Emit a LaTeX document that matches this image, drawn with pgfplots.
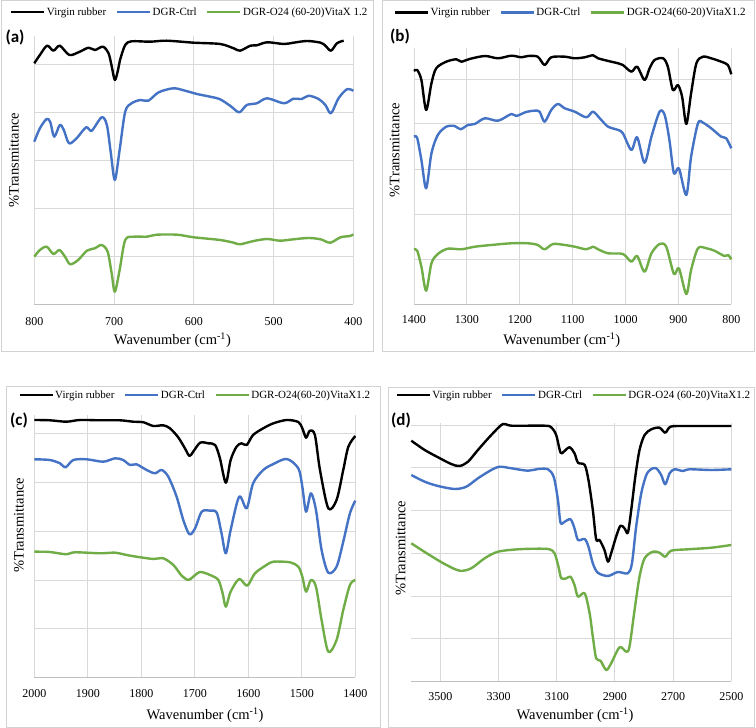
\documentclass[border=0pt]{standalone}
\usepackage{fontspec}
\setmainfont{Liberation Serif}
\newfontfamily\labfont{Carlito}
\usepackage{pgfplots}
\pgfplotsset{compat=1.18}
\definecolor{cblk}{RGB}{0,0,0}
\definecolor{cblu}{RGB}{68,114,196}
\definecolor{cgrn}{RGB}{112,173,71}
\definecolor{gridc}{RGB}{217,217,217}
\definecolor{boxc}{RGB}{210,210,210}
\definecolor{axc}{RGB}{191,191,191}
\pgfplotsset{
 ftir/.style={
  scale only axis, anchor=south west, clip=false,
  axis lines*=left, axis line style={-},
  x axis line style={draw=axc, line width=0.9pt},
  y axis line style={draw=none},
  x dir=reverse,
  xmajorgrids, ymajorgrids,
  grid style={draw=gridc, line width=0.9pt},
  major tick length=0pt,
  yticklabels={},
  /pgf/number format/assume math mode=true,
  /pgf/number format/1000 sep={},
  tick label style={font=\fontsize{12}{14}\selectfont},
  label style={font=\fontsize{14.5}{16}\selectfont},
  xlabel={Wavenumber (cm\textsuperscript{-1})},
  ylabel={\%Transmittance},
  legend columns=3,
  legend image code/.code={\draw[##1] (0pt,0pt) -- (33pt,0pt);},
  legend style={draw=none, fill=none, anchor=center,
    font=\fontsize{11}{13}\selectfont,
    nodes={inner sep=1.5pt},
    /tikz/every even column/.append style={column sep=8pt}},
  every axis plot/.append style={line width=2.4pt, smooth, line join=round},
 }
}
\begin{document}
\begin{tikzpicture}[x=1pt,y=1pt]
\useasboundingbox (0,0) rectangle (756,728);
\fill[white] (0,0) rectangle (756,728);
\draw[boxc, line width=0.9pt] (1,377) rectangle (373,727.5);
\draw[boxc, line width=0.9pt] (382,377) rectangle (754.5,727.5);
\draw[boxc, line width=0.9pt] (6,1) rectangle (380,342);
\draw[boxc, line width=0.9pt] (388.5,1) rectangle (754.5,341);

% ---------------- (a)
\begin{axis}[ftir, at={(34.3pt,424pt)}, width=319pt, height=268pt,
  xmin=400, xmax=800, ymin=-304, ymax=-36,
  xtick={400,500,600,700,800}, ytick={-256,-208,-160,-112,-64},
  xticklabel style={anchor=center, yshift=-17.5pt},
  x label style={at={(axis description cs:0.433,0)}, anchor=center, yshift=-36pt},
  y label style={at={(axis description cs:-0.0636,0.537)}, anchor=center},
  legend style={at={(axis description cs:0.4865,1.0896)}}]
\addplot[cblk] coordinates {(800,-63.3)(793,-55)(784,-45.7)(776,-50.7)(768,-45.7)(756,-55)(743,-51.7)(732,-47.7)(724,-50)(714,-46.7)(707,-53)(703,-66)(699,-80)(695,-70)(692.5,-60)(686,-45)(678,-41.3)(655,-41.7)(634,-40.7)(600,-42.7)(567,-44)(550,-48.3)(542,-50.7)(529,-45.7)(521,-45.3)(508,-42.3)(487,-44)(475,-42.7)(458,-41)(441,-42.7)(435,-45.7)(428,-50.7)(420.5,-43.3)(412,-40.7)};
\addlegendentry{Virgin rubber}
\addplot[cblu] coordinates {(800,-141.7)(793,-128.3)(784.5,-119)(780,-122)(775,-136.7)(768,-125)(763,-130)(756.5,-143.3)(747,-138.3)(735,-127.3)(728,-130.7)(715.5,-117.3)(709,-125)(704,-153.3)(699,-180)(693,-150)(686,-111.7)(678,-103.3)(667,-100)(657,-100.7)(644,-92.3)(625.5,-88.3)(611,-90.7)(596,-94)(579.5,-96.7)(567,-99.3)(554,-106)(543,-112.3)(533.5,-105)(521,-103.3)(508,-98.3)(487,-103.3)(475,-98.7)(464.5,-99)(456,-95.7)(443.5,-99)(435,-105)(428,-113.3)(418.5,-98.3)(408,-89.3)(400,-90.7)};
\addlegendentry{DGR-Ctrl}
\addplot[cgrn] coordinates {(800,-256.7)(793,-250)(784.5,-246.7)(776,-254)(768.5,-250)(761.5,-256.7)(755,-264.3)(745,-260)(734,-250.7)(724,-248.3)(715.5,-245)(708,-251.7)(703,-273.3)(699,-291.7)(693,-270)(686,-240)(675,-236.7)(659,-236.7)(646,-234.7)(621,-234.7)(600,-237.3)(567,-240)(550,-242.7)(542,-244.3)(525,-241)(508,-239)(492,-240.7)(475,-239.3)(456,-238)(441,-239.3)(429,-242.7)(416,-237.3)(404,-236)(400,-234.3)};
\addlegendentry{DGR-O24 (60-20)VitaX 1.2}
\end{axis}
\node[font=\labfont\bfseries\fontsize{17}{19}\selectfont] at (15,691) {(a)};

% ---------------- (b)
\begin{axis}[ftir, at={(414pt,424pt)}, width=317.3pt, height=256pt,
  xmin=800, xmax=1400, ymin=-304, ymax=-48,
  xtick={800,900,...,1400}, ytick={-259,-214.3,-169.3,-123.7,-79},
  xticklabel style={anchor=center, yshift=-16pt},
  x label style={at={(axis description cs:0.466,0)}, anchor=center, yshift=-36pt},
  y label style={at={(axis description cs:-0.0608,0.6016)}, anchor=center},
  legend style={at={(axis description cs:0.4932,1.1379)}}]
\addplot[cblk] coordinates {(1400,-71)(1394,-70)(1386,-80)(1377,-110)(1367,-83.3)(1358,-68.3)(1339,-61.7)(1320,-59.3)(1310.5,-61.7)(1295,-59)(1266,-56)(1241,-58.3)(1216,-55.7)(1197,-57.3)(1184.5,-56)(1166,-56.7)(1153,-65)(1140.5,-57.3)(1115,-56.7)(1096,-58.3)(1077,-57.3)(1061.5,-55.3)(1052,-58.3)(1027,-61.7)(1014,-63.3)(1005,-65)(989,-71.7)(978,-66.7)(964,-80)(954.5,-68.3)(945,-60)(929,-58.3)(920,-66.7)(910.5,-90)(901,-85)(893,-96.7)(885,-124)(876,-93.3)(866,-63.3)(853.5,-56.7)(838,-58.3)(819,-61.7)(806.5,-65)(800,-74.3)};
\addlegendentry{Virgin rubber}
\addplot[cblu] coordinates {(1400,-136.7)(1394,-138)(1386,-160)(1377,-188.3)(1367,-153.3)(1355,-135)(1339,-126.7)(1323,-126)(1312,-129.3)(1298,-125)(1285,-124)(1266,-118.3)(1241,-120.7)(1216,-114)(1206.5,-116)(1188,-112)(1172,-110.7)(1162.5,-111.7)(1153,-121.7)(1140.5,-110)(1128,-104)(1115,-108.3)(1096,-111.7)(1074,-117.3)(1061.5,-111.7)(1047,-119.3)(1033,-126.7)(1014,-130)(1005,-133.3)(989,-150)(978,-137.3)(964,-162.7)(951,-136.7)(935.6,-111.7)(926,-115)(917,-140)(908.5,-173.3)(899,-168.3)(885,-195)(876,-156.7)(863,-123.3)(853.5,-122.7)(838,-128.3)(819,-136.7)(809.6,-138.3)(800,-148.3)};
\addlegendentry{DGR-Ctrl}
\addplot[cgrn] coordinates {(1400,-249.3)(1394,-250.7)(1386,-266.7)(1377,-290.7)(1367,-263.3)(1355,-254)(1336,-248.7)(1310.5,-249.3)(1285,-246.7)(1254,-245)(1216,-243.3)(1184.5,-243.3)(1166,-245)(1153,-249.3)(1137,-244)(1115,-245)(1096,-246.7)(1074,-249.3)(1061.5,-246.7)(1052,-249.3)(1033,-253.3)(1005,-254)(989,-261.7)(978,-256)(964,-271.7)(951,-253.3)(935.6,-244)(923,-246.7)(908.5,-274)(899,-268.3)(885,-294)(876,-270)(863,-248.3)(847,-248.3)(832,-250.7)(813,-256)(806,-255)(800,-259.3)};
\addlegendentry{DGR-O24(60-20)VitaX1.2}
\end{axis}
\node[font=\labfont\bfseries\fontsize{17}{19}\selectfont] at (400,692) {(b)};

% ---------------- (c)
\begin{axis}[ftir, at={(34.3pt,51pt)}, width=321pt, height=262pt,
  xmin=1400, xmax=2000, ymin=-317, ymax=-55,
  xtick={1400,1500,...,2000}, ytick={-268.7,-220,-171.3,-122.3,-73.3},
  xticklabel style={anchor=center, yshift=-16.3pt},
  x label style={at={(axis description cs:0.532,0)}, anchor=center, yshift=-38pt},
  y label style={at={(axis description cs:-0.0477,0.58)}, anchor=center},
  legend style={at={(axis description cs:0.5006,1.0763)}}]
\addplot[cblk] coordinates {(2000,-60)(1971,-60.3)(1940,-61.7)(1915,-60)(1877,-60.3)(1840,-60.3)(1815,-61.7)(1796,-62.3)(1777.5,-66)(1759,-65.3)(1746.5,-68.3)(1731,-77.3)(1718.5,-88.3)(1710,-96)(1703,-91.7)(1690,-82.7)(1675,-83.3)(1662,-85)(1653,-98.3)(1642,-122.7)(1633,-100)(1622,-86.7)(1612.5,-83.3)(1603,-85)(1591,-75)(1572,-68.3)(1553,-63.3)(1528,-60)(1506.5,-62)(1499,-68.3)(1492,-77.7)(1485,-70.7)(1475.5,-75)(1466,-110)(1450.5,-148.3)(1435,-140)(1422.5,-110)(1413,-86.7)(1400,-76)};
\addlegendentry{Virgin rubber}
\addplot[cblu] coordinates {(2000,-99.3)(1971,-100)(1952,-103.3)(1941.5,-107.3)(1927,-100)(1902,-99.3)(1871,-101.7)(1849,-98.3)(1834,-100)(1821,-105)(1809,-104.3)(1790,-110)(1774.5,-113.3)(1762,-110)(1749.5,-116.7)(1734,-136.7)(1721.5,-160)(1710,-174.3)(1699.5,-168.3)(1687,-151.7)(1671.5,-150.7)(1659,-152.7)(1650,-173.3)(1642,-193.3)(1633,-170)(1617,-136.7)(1603,-148.3)(1591,-123.3)(1572,-110)(1553,-104)(1528,-99)(1506.5,-108.3)(1499,-126.7)(1492,-151.7)(1483,-133.3)(1473.5,-150)(1463,-190)(1450.5,-212.7)(1435,-206.7)(1422.5,-181.7)(1410,-153.3)(1400,-140.7)};
\addlegendentry{DGR-Ctrl}
\addplot[cgrn] coordinates {(2000,-191.7)(1971,-192)(1940,-194.3)(1924,-192.3)(1877,-193.3)(1849,-192.7)(1827.5,-195)(1809,-196.7)(1777.5,-199)(1759,-198.3)(1740,-205)(1724.5,-215.7)(1712,-220)(1703,-216.7)(1690,-212)(1671.5,-215)(1656,-220)(1648,-233.3)(1642,-246.7)(1633,-231.7)(1617,-219)(1602,-225.7)(1587.5,-213.3)(1566,-205)(1553,-201.7)(1522,-202.3)(1506.5,-206.7)(1499,-216.7)(1492,-231.7)(1483,-220)(1473.5,-226.7)(1463,-260)(1450.5,-291.7)(1435,-280)(1422.5,-250)(1410,-225)(1400,-220)};
\addlegendentry{DGR-O24(60-20)VitaX1.2}
\end{axis}
\node[font=\labfont\bfseries\fontsize{17}{19}\selectfont] at (19,308) {(c)};

% ---------------- (d)
\begin{axis}[ftir, at={(411.3pt,46.7pt)}, width=320pt, height=258.3pt,
  xmin=2500, xmax=3600, ymin=-321.3, ymax=-63,
  xtick={2500,2700,...,3500}, ytick={-278.7,-236,-193.3,-150.7,-107.7,-65.3},
  xticklabel style={anchor=center, yshift=-15.4pt},
  x label style={at={(axis description cs:0.5116,0)}, anchor=center, yshift=-33.7pt},
  y label style={at={(axis description cs:-0.0331,0.516)}, anchor=center},
  legend style={at={(axis description cs:0.5069,1.1084)}}]
\addplot[cblk] coordinates {(3600,-80.7)(3554,-90)(3508,-97.3)(3463,-104)(3434,-106)(3405,-101.7)(3371,-90)(3325,-75)(3285,-64)(3256,-65.7)(3142,-65.7)(3119,-67.3)(3102,-75)(3087,-92.7)(3076,-91.7)(3056,-87.3)(3039,-93.3)(3027,-102.7)(3004,-105)(2991,-120)(2976,-150)(2964.5,-179.3)(2953,-180)(2936,-190)(2924,-201.7)(2913,-193.3)(2896,-176.7)(2881,-165.7)(2867,-168.3)(2855.5,-172.7)(2844,-150)(2830,-116.7)(2815.5,-90)(2798,-75)(2775,-69.3)(2747,-67.7)(2727,-72.7)(2709,-66.7)(2661,-66)(2569,-66)(2500,-66)};
\addlegendentry{Virgin rubber}
\addplot[cblu] coordinates {(3600,-115)(3554,-121.7)(3508,-126)(3451,-129)(3411,-126.7)(3371,-118.3)(3325,-110)(3296.5,-106.7)(3256,-108.3)(3199,-110.7)(3165,-109)(3130,-109.3)(3110,-117.3)(3096,-140)(3087,-162.7)(3073,-161.7)(3052.5,-159.3)(3039,-168.3)(3027,-180)(3004,-179)(2991,-186.7)(2976,-203.3)(2959,-212.7)(2924,-216)(2890,-212)(2855.5,-213.3)(2841.5,-203.3)(2827,-166.7)(2809.5,-133.3)(2792,-115)(2775,-109)(2758,-108.3)(2741,-115)(2727,-124.3)(2712,-113.3)(2695,-109.3)(2666.5,-111)(2643.5,-109.3)(2569,-110)(2500,-109.3)};
\addlegendentry{DGR-Ctrl}
\addplot[cgrn] coordinates {(3600,-183.3)(3543,-194)(3485.5,-204)(3434,-210.7)(3394,-208.3)(3348,-198.3)(3302,-191.7)(3233,-189.3)(3165,-188.7)(3125,-189.3)(3107.5,-193.3)(3094,-206.7)(3084.5,-218.3)(3067,-218.3)(3052.5,-216.7)(3039,-225)(3027,-236.7)(3004,-233.3)(2987,-253.3)(2976,-276.7)(2964.5,-298.3)(2949.5,-300.7)(2930,-310)(2913,-303.3)(2884,-287.3)(2861,-291.7)(2850,-286.7)(2832.5,-250)(2815.5,-216.7)(2798,-198.3)(2769.5,-191.7)(2747,-192.7)(2727,-196.7)(2706.5,-190.7)(2649,-189.3)(2569,-187.7)(2500,-185)};
\addlegendentry{DGR-O24 (60-20)VitaX1.2}
\end{axis}
\node[font=\labfont\bfseries\fontsize{17}{19}\selectfont] at (401,308) {(d)};
\end{tikzpicture}
\end{document}
